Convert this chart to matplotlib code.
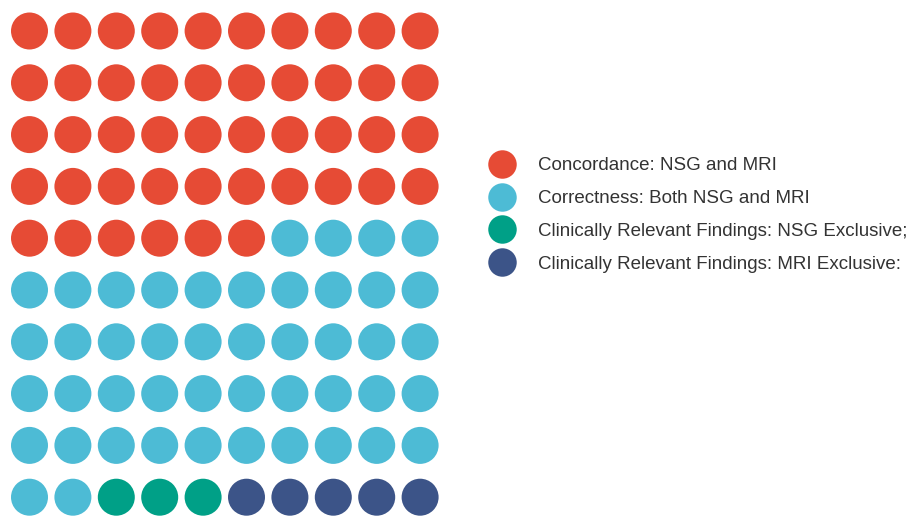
import numpy as np
import matplotlib
matplotlib.use("Agg")
import matplotlib.pyplot as plt
from matplotlib.lines import Line2D

categories = ["Concordance: NSG and MRI",
              "Correctness: Both NSG and MRI",
              "Clinically Relevant Findings: NSG Exclusive;",
              "Clinically Relevant Findings: MRI Exclusive:"]
counts = [46, 46, 3, 5]
colors = ["#E64B35", "#4DBBD5", "#00A087", "#3C5488"]
n_cols = 10

plt.rcParams['font.family'] = ['Liberation Sans', 'DejaVu Sans']

W, H = 912, 517
fig = plt.figure(figsize=(W / 100, H / 100), dpi=100)
ax = fig.add_axes([0, 0, 1, 1])
ax.set_axis_off()

# pixel layout of the grid
x0, dx = 29.5, 43.4
y0, dy = 31.0, 51.8
ax.set_xlim(-x0 / dx, (W - x0) / dx)
ax.set_ylim((H - y0) / dy, -y0 / dy)

idx = np.arange(sum(counts))
cols = idx % n_cols
rows = idx // n_cols
cat = np.repeat(np.arange(len(counts)), counts)
diam_pt = 37 * 72 / 100
for k, c in enumerate(colors):
    m = cat == k
    ax.scatter(cols[m], rows[m], s=diam_pt ** 2, color=c, edgecolors='none')

fs = 13.5
fs_px = fs * 100 / 72
handles = [Line2D([], [], marker='o', linestyle='none', markersize=20.5,
                  markerfacecolor=c, markeredgecolor='none') for c in colors]
leg = fig.legend(handles, categories, loc='center left',
                 bbox_to_anchor=(487 / W, 1 - 215 / H), frameon=False,
                 fontsize=fs, labelspacing=0.84, handletextpad=21 / fs_px,
                 borderaxespad=0, borderpad=0, handlelength=30 / fs_px)
for t in leg.get_texts():
    t.set_color('#333333')

fig.savefig("out.png", dpi=100)
